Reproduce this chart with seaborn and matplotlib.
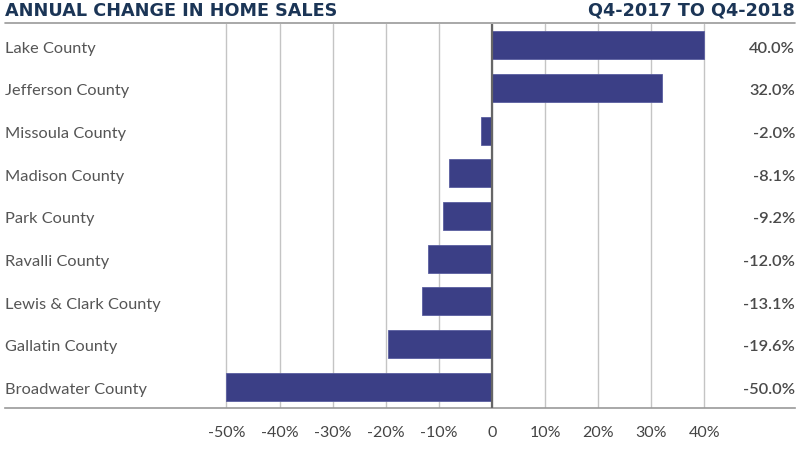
import pandas as pd
import seaborn as sns
import matplotlib
matplotlib.use('Agg')
import matplotlib.pyplot as plt
import matplotlib.transforms as mtransforms

counties = ['Lake County', 'Jefferson County', 'Missoula County', 'Madison County',
            'Park County', 'Ravalli County', 'Lewis & Clark County', 'Gallatin County',
            'Broadwater County']
changes = [40.0, 32.0, -2.0, -8.1, -9.2, -12.0, -13.1, -19.6, -50.0]
ticks = [-50, -40, -30, -20, -10, 0, 10, 20, 30, 40]

df = pd.DataFrame({'county': counties, 'change': changes})

sns.set_style('white')
plt.rcParams['font.family'] = ['Lato', 'DejaVu Sans']

navy = '#1b3556'
bar_col = '#3b3f86'
grey_txt = '#555555'

fig = plt.figure(figsize=(8, 4.51), dpi=100)
ax = fig.add_axes([5 / 800, 1 - 408 / 451, 790 / 800, 384 / 451])

sns.barplot(data=df, x='change', y='county', order=counties, orient='h',
            color=bar_col, saturation=1, width=0.66, edgecolor='#5a5ea0',
            linewidth=0.6, ax=ax, zorder=3)

ax.set_xlim(-91.7, 57.05)
ax.set_ylim(8.5, -0.5)
ax.set_xticks(ticks)
ax.set_xticklabels(['0' if t == 0 else f'{t}%' for t in ticks],
                   fontsize=11.5, color='#444444')
ax.tick_params(axis='x', length=0, pad=13)
ax.set_yticks([])
ax.set_xlabel('')
ax.set_ylabel('')
ax.grid(axis='x', color='#c4c4c4', linewidth=1, zorder=0)
ax.axvline(0, color='#666666', linewidth=1.6, zorder=4)

for s in ['top', 'left', 'right']:
    ax.spines[s].set_visible(False)
ax.spines['bottom'].set_color('#999999')
ax.spines['bottom'].set_linewidth(1.2)

# county names and value labels (nudged down a touch)
trans = mtransforms.blended_transform_factory(ax.transAxes, ax.transData)
trans = trans + mtransforms.ScaledTranslation(0, -2.5 / 72, fig.dpi_scale_trans)
for i, (c, v) in enumerate(zip(counties, changes)):
    ax.text(0.0, i, c, transform=trans, ha='left', va='center',
            fontsize=11.8, color=grey_txt)
    ax.text(1.0, i, f'{v:.1f}%', transform=trans, ha='right', va='center',
            fontsize=11.8, color='#4a4a4a', fontweight='semibold')

# header
hdr = ['DejaVu Sans']
fig.text(5 / 800, 1 - 11 / 451, 'ANNUAL CHANGE IN HOME SALES', ha='left',
         va='center', fontsize=12.7, fontweight='bold', color=navy, family=hdr)
fig.text(795 / 800, 1 - 11 / 451, 'Q4-2017 TO Q4-2018', ha='right',
         va='center', fontsize=12.7, fontweight='bold', color=navy, family=hdr)
fig.add_artist(plt.Line2D([5 / 800, 795 / 800], [1 - 23 / 451, 1 - 23 / 451],
                          color='#999999', linewidth=1.2))

plt.savefig('out.png', dpi=100)
